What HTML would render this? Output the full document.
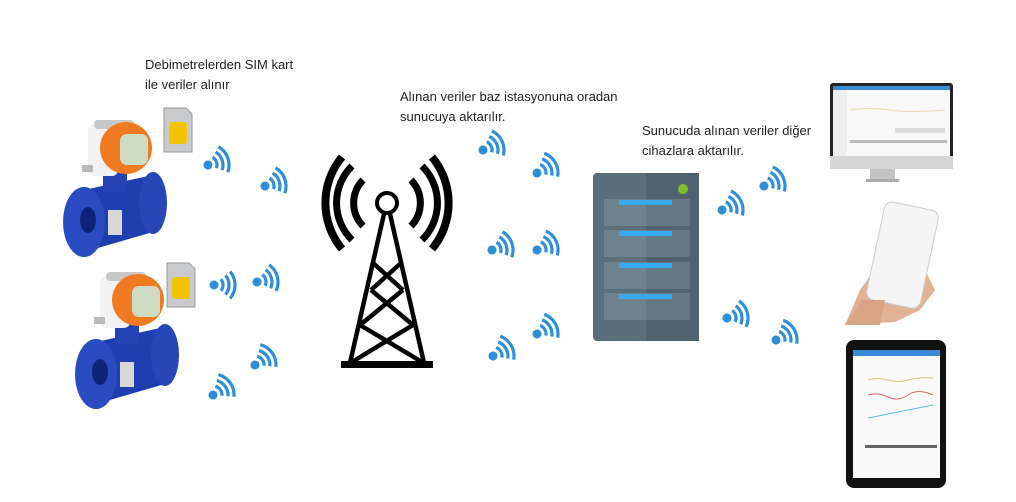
<!DOCTYPE html>
<html><head><meta charset="utf-8"><style>
html,body{margin:0;padding:0;background:#fff;}
body{width:1016px;height:502px;position:relative;overflow:hidden;font-family:"Liberation Sans",sans-serif;}
.t{position:absolute;font-size:13px;color:#222;line-height:20px;}
</style></head><body>
<div class="t" style="left:145px;top:55px">Debimetrelerden SIM kart<br>ile veriler alınır</div>
<div class="t" style="left:400px;top:87px">Alınan veriler baz istasyonuna oradan<br>sunucuya aktarılır.</div>
<div class="t" style="left:642px;top:121px">Sunucuda alınan veriler diğer<br>cihazlara aktarılır.</div>
<svg width="1016" height="502" style="position:absolute;left:0;top:0">
<defs>
<g id="w">
<circle cx="0" cy="0" r="4.5" fill="#2e8fd8"/>
<path d="M6.9,-5.8 A9,9 0 0 1 6.9,5.8" stroke="#2e8fd8" stroke-width="3.2" fill="none"/>
<path d="M11.5,-9.6 A15,15 0 0 1 11.5,9.6" stroke="#2e8fd8" stroke-width="3.2" fill="none"/>
<path d="M16.1,-13.5 A21,21 0 0 1 16.1,13.5" stroke="#2e8fd8" stroke-width="3.2" fill="none"/>
</g>
<g id="meter">
<path d="M84,190 L153,175 L153,232 L84,252 Z" fill="#1f3fb0"/>
<ellipse cx="153" cy="203" rx="14" ry="31" fill="#2747b8"/>
<ellipse cx="84" cy="222" rx="21" ry="35" fill="#2a4cc0"/>
<ellipse cx="88" cy="220" rx="8" ry="13" fill="#0f237a"/>
<rect x="103" y="172" width="24" height="20" fill="#2343b5"/>
<rect x="108" y="210" width="14" height="25" fill="#d8d8d8"/>
<rect x="88" y="124" width="30" height="52" rx="6" fill="#f2f2f2"/>
<rect x="94" y="120" width="40" height="9" rx="4" fill="#c8c8c8"/>
<circle cx="126" cy="148" r="26" fill="#f07a22"/>
<rect x="120" y="134" width="28" height="31" rx="7" fill="#cfdcc4"/>
<rect x="82" y="165" width="11" height="7" fill="#bbb"/>
</g>
<g id="sim">
<path d="M0,0 H22 L28,6 V44 H0 Z" fill="#c9cacc" stroke="#999" stroke-width="1"/>
<rect x="5" y="14" width="18" height="22" rx="3" fill="#f5c400"/>
</g>
</defs>
<use href="#meter" x="0" y="0"/>
<use href="#meter" x="12" y="152"/>
<use href="#sim" x="164" y="108"/>
<use href="#sim" x="167" y="263"/>

<use href="#w" transform="translate(208,165) rotate(-20)"/>
<use href="#w" transform="translate(265,186) rotate(-20)"/>
<use href="#w" transform="translate(214,285) rotate(0)"/>
<use href="#w" transform="translate(257,282) rotate(-15)"/>
<use href="#w" transform="translate(255,365) rotate(-35)"/>
<use href="#w" transform="translate(213,395) rotate(-35)"/>
<use href="#w" transform="translate(483,150) rotate(-25)"/>
<use href="#w" transform="translate(537,173) rotate(-30)"/>
<use href="#w" transform="translate(492,250) rotate(-20)"/>
<use href="#w" transform="translate(537,250) rotate(-25)"/>
<use href="#w" transform="translate(537,334) rotate(-30)"/>
<use href="#w" transform="translate(493,356) rotate(-30)"/>
<use href="#w" transform="translate(722,210) rotate(-25)"/>
<use href="#w" transform="translate(764,186) rotate(-25)"/>
<use href="#w" transform="translate(727,318) rotate(-15)"/>
<use href="#w" transform="translate(776,340) rotate(-30)"/>

<g stroke="#000" fill="none" stroke-width="7">
<circle cx="387" cy="203" r="10" stroke-width="4"/>
<path d="M363,180 A33,33 0 0 0 363,226"/>
<path d="M411,180 A33,33 0 0 1 411,226"/>
<path d="M352,166 A52,52 0 0 0 352,240"/>
<path d="M422,166 A52,52 0 0 1 422,240"/>
<path d="M342,157 A72,72 0 0 0 342,249" stroke-width="8"/>
<path d="M432,157 A72,72 0 0 1 432,249" stroke-width="8"/>
<g stroke-width="4.5">
<path d="M384,214 L350,363 M390,214 L424,363"/>
<path d="M373,263 L403,290 M401,263 L371,290"/>
<path d="M371,290 L413,325 M403,290 L360,325"/>
<path d="M360,325 L422,362 M413,325 L352,362"/>
</g>
</g>
<rect x="341" y="361" width="92" height="7" fill="#000"/>

<rect x="593" y="173" width="106" height="168" rx="4" fill="#5b6f7b"/>
<rect x="646" y="173" width="53" height="168" fill="#4f626d"/>
<circle cx="683" cy="189" r="5" fill="#7cc12b"/>
<g fill="#6f838f">
<rect x="604" y="199" width="86" height="27"/><rect x="604" y="230" width="86" height="27"/>
<rect x="604" y="262" width="86" height="27"/><rect x="604" y="293" width="86" height="27"/>
</g>
<g fill="#657883">
<rect x="646" y="199" width="44" height="27"/><rect x="646" y="230" width="44" height="27"/>
<rect x="646" y="262" width="44" height="27"/><rect x="646" y="293" width="44" height="27"/>
</g>
<g fill="#39aaf0">
<rect x="619" y="200" width="53" height="5"/><rect x="619" y="231" width="53" height="5"/>
<rect x="619" y="263" width="53" height="5"/><rect x="619" y="294" width="53" height="5"/>
</g>

<rect x="830" y="83" width="123" height="81" rx="3" fill="#222"/>
<rect x="833" y="86" width="117" height="70" fill="#f8f8f8"/>
<rect x="833" y="86" width="117" height="4" fill="#3a8ad6"/>
<rect x="833" y="90" width="14" height="66" fill="#eee"/>
<path d="M850,110 q20,-3 40,0 t55,0" stroke="#e6d8b0" fill="none"/>
<rect x="895" y="128" width="50" height="5" fill="#ddd"/>
<rect x="850" y="140" width="97" height="3" fill="#bbb"/>
<rect x="830" y="156" width="123" height="13" fill="#d6d6d6"/>
<rect x="870" y="169" width="25" height="10" fill="#c4c4c4"/>
<rect x="866" y="179" width="33" height="3" fill="#aaa"/>

<path d="M845,325 L860,290 L880,262 L905,270 L925,270 L935,290 L920,310 L895,322 Z" fill="#e2b295"/>
<rect x="875" y="205" width="55" height="100" rx="8" fill="#f5f5f5" stroke="#ccc" transform="rotate(12 902 255)"/>
<path d="M845,325 L862,300 L885,300 L880,325 Z" fill="#d9a386"/>

<rect x="846" y="340" width="100" height="148" rx="8" fill="#111"/>
<rect x="853" y="350" width="87" height="128" fill="#fafafa"/>
<rect x="853" y="350" width="87" height="6" fill="#3a8ad6"/>
<path d="M868,380 q10,-3 20,0 t20,0 t25,-2" stroke="#d8c07a" fill="none"/>
<path d="M868,395 q10,-3 20,2 t20,-2 t25,0" stroke="#d66" fill="none"/>
<path d="M868,418 L933,405" stroke="#5bbbe0" fill="none"/>
<rect x="865" y="445" width="72" height="3" fill="#666"/>
</svg>
</body></html>
